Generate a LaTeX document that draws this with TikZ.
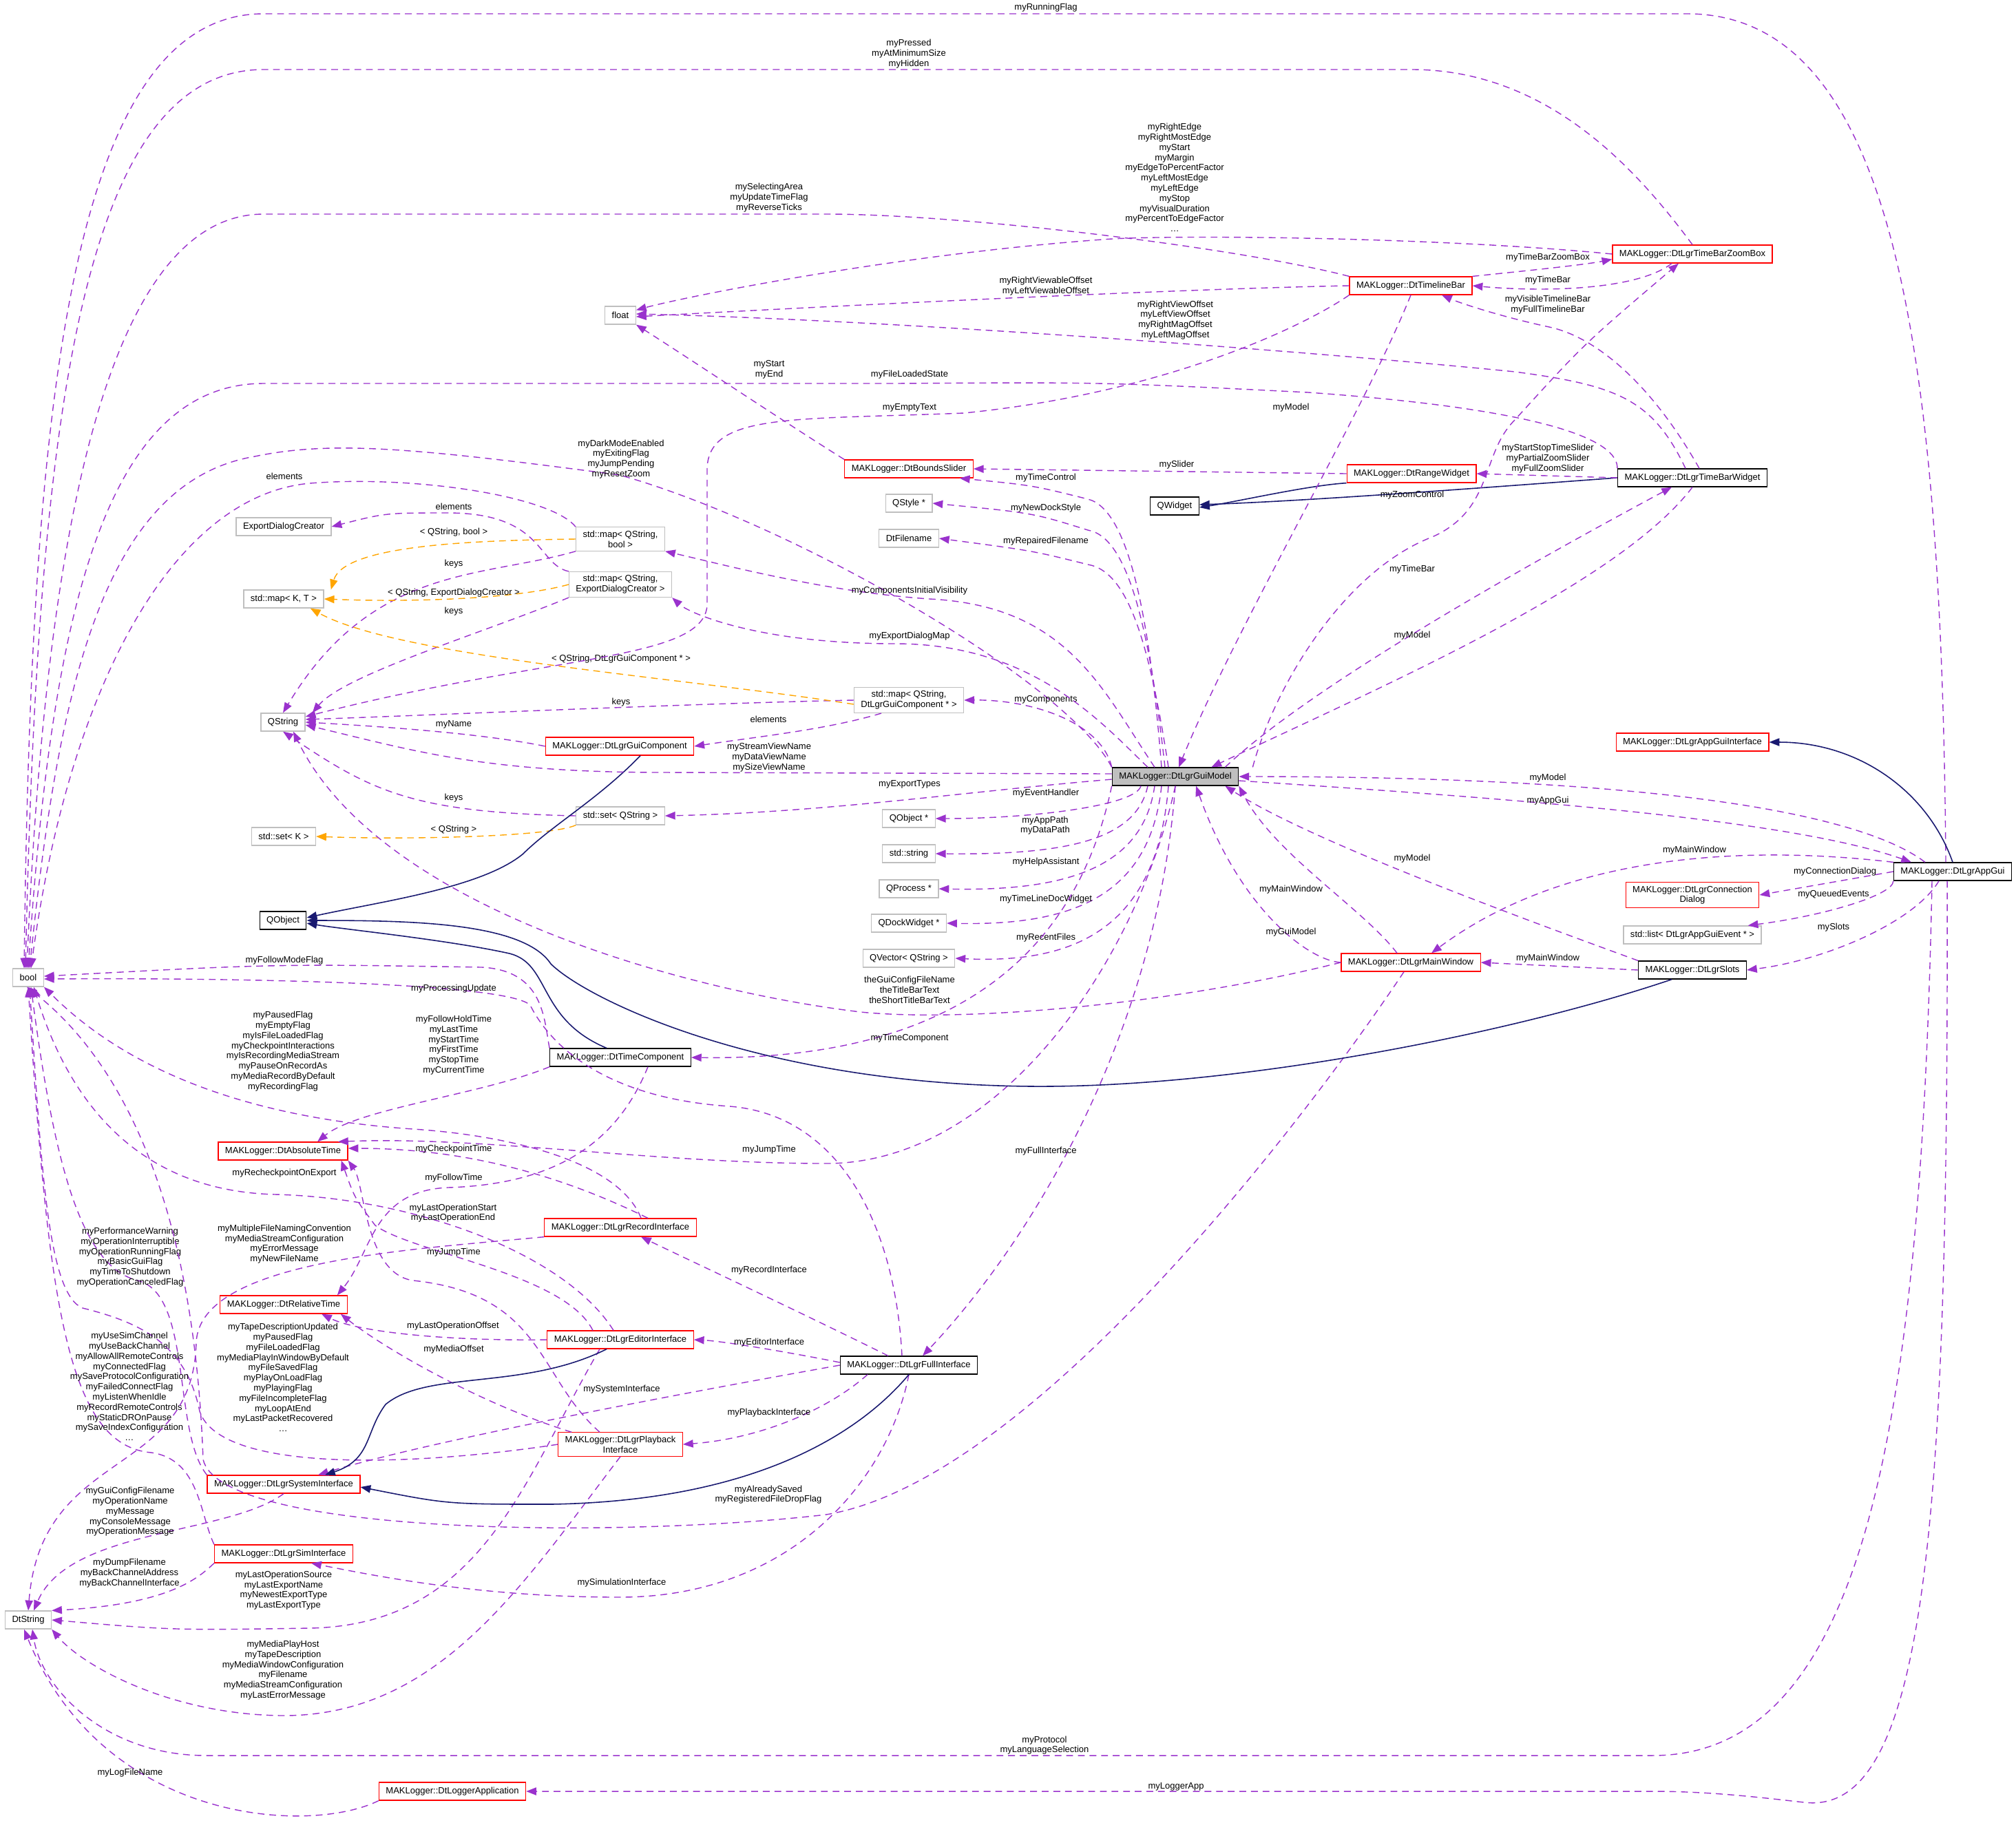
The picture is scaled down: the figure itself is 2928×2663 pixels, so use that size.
\documentclass[tikz,border=0pt]{standalone}
\usepackage{fontspec}
\setmainfont{Liberation Sans}
\usepackage{tikz}
\usetikzlibrary{arrows.meta}
\definecolor{mem}{HTML}{9A32CD}
\definecolor{tpl}{HTML}{FFA500}
\definecolor{inh}{HTML}{191970}
\definecolor{ext}{HTML}{BFBFBF}
\tikzset{
  box/.style={draw, line width=0.35pt, minimum height=0.26cm, inner xsep=0.1cm, inner ysep=0.05cm,
    align=center, font=\fontsize{3.7}{4.2}\selectfont},
  cls/.style={box, draw=black},
  bad/.style={box, draw=red},
  ext/.style={box, draw=ext},
  lbl/.style={font=\fontsize{3.7}{4.2}\selectfont, align=center, inner sep=0pt},
  use/.style={draw=mem, line width=0.4pt, dash pattern=on 2.8pt off 2pt, -{Triangle[length=4.2pt,width=3.2pt]}, fill=none},
  tmpl/.style={use, draw=tpl, -{Triangle[length=4.2pt,width=3.2pt,fill=tpl]}},
  isa/.style={draw=inh, line width=0.45pt, -{Triangle[length=4.2pt,width=3.2pt,fill=inh]}}
}
\begin{document}
\begin{tikzpicture}[x=0.01cm, y=-0.01cm]
    \useasboundingbox (0,0) rectangle (2928,2663);
    % types on the left
    \node[ext] at (41, 1420) (bool) {bool};
    \node[ext] at (41, 2353) (dtstr) {DtString};
    \node[ext] at (901, 458) (float) {float};
    \node[ext] at (412, 765) (edc) {ExportDialogCreator};
    \node[ext] at (412, 870) (mapkt) {std::map\textless{} K, T \textgreater};
    \node[ext] at (411, 1049) (qstr) {QString};
    \node[ext] at (412, 1215) (setk) {std::set\textless{} K \textgreater};
    \node[cls] at (411, 1337) (qobj) {QObject};
    \node[ext] at (901, 783) (mapqsb) {std::map\textless{} QString,\\ bool \textgreater};
    \node[ext] at (901, 849) (mapqsedc) {std::map\textless{} QString,\\ ExportDialogCreator \textgreater};
    \node[ext] at (1320, 1017) (mapqsgc) {std::map\textless{} QString,\\ DtLgrGuiComponent * \textgreater};
    \node[bad] at (900, 1084) (guicomp) {MAKLogger::DtLgrGuiComponent};
    \node[ext] at (901, 1185) (setqs) {std::set\textless{} QString \textgreater};
    \node[cls] at (901, 1536) (timecomp) {MAKLogger::DtTimeComponent};
    \node[bad] at (411, 1672) (abstime) {MAKLogger::DtAbsoluteTime};
    \node[bad] at (901, 1783) (recint) {MAKLogger::DtLgrRecordInterface};
    \node[bad] at (412, 1895) (reltime) {MAKLogger::DtRelativeTime};
    \node[bad] at (901, 1946) (editint) {MAKLogger::DtLgrEditorInterface};
    \node[bad] at (901, 2098) (playint) {MAKLogger::DtLgrPlayback\\Interface};
    \node[bad] at (412, 2156) (sysint) {MAKLogger::DtLgrSystemInterface};
    \node[bad] at (412, 2257) (simint) {MAKLogger::DtLgrSimInterface};
    \node[bad] at (657, 2602) (logapp) {MAKLogger::DtLoggerApplication};
    \node[cls] at (1320, 1983) (fullint) {MAKLogger::DtLgrFullInterface};
    % middle column
    \node[bad] at (1320, 681) (bounds) {MAKLogger::DtBoundsSlider};
    \node[ext] at (1320, 731) (qstyle) {QStyle *};
    \node[ext] at (1320, 782) (dtfile) {DtFilename};
    \node[ext] at (1320, 1189) (qobjp) {QObject *};
    \node[ext] at (1320, 1240) (stdstr) {std::string};
    \node[ext] at (1320, 1291) (qproc) {QProcess *};
    \node[ext] at (1320, 1341) (qdock) {QDockWidget *};
    \node[ext] at (1320, 1392) (qvec) {QVector\textless{} QString \textgreater};
    \node[cls, fill=ext] at (1707, 1128) (model) {MAKLogger::DtLgrGuiModel};
    % right side
    \node[bad] at (2049, 415) (timeline) {MAKLogger::DtTimelineBar};
    \node[bad] at (2458, 369) (zoombox) {MAKLogger::DtLgrTimeBarZoomBox};
    \node[bad] at (2050, 688) (range) {MAKLogger::DtRangeWidget};
    \node[cls] at (1706, 735) (qwidget) {QWidget};
    \node[cls] at (2458, 694) (tbw) {MAKLogger::DtLgrTimeBarWidget};
    \node[bad] at (2458, 1078) (appguiint) {MAKLogger::DtLgrAppGuiInterface};
    \node[bad] at (2458, 1300) (conndlg) {MAKLogger::DtLgrConnection\\Dialog};
    \node[ext] at (2458, 1358) (stdlist) {std::list\textless{} DtLgrAppGuiEvent * \textgreater};
    \node[bad] at (2049, 1398) (mainwin) {MAKLogger::DtLgrMainWindow};
    \node[cls] at (2458, 1409) (slots) {MAKLogger::DtLgrSlots};
    \node[cls] at (2836, 1266) (appgui) {MAKLogger::DtLgrAppGui};

    % members of type bool, coming from the top
    \draw[use] ([xshift=-0.1cm]appgui.north) .. controls (2820,500) and (2750,20) .. (2450,20) -- (383,20)
        .. controls (100,20) and (45,600) .. ([xshift=-0.06cm]bool.north) node[lbl] at (1519,11) {myRunningFlag};
    \draw[use] (zoombox.north) .. controls (2380,250) and (2250,101) .. (2050,101) -- (383,101)
        .. controls (120,101) and (55,600) .. ([xshift=-0.04cm]bool.north) node[lbl] at (1320,78) {myPressed\\myAtMinimumSize\\myHidden};
    \draw[use] (timeline.north west) .. controls (1800,360) and (1400,311) .. (1200,311) -- (383,311)
        .. controls (150,311) and (65,800) .. ([xshift=-0.02cm]bool.north) node[lbl] at (1117,287) {mySelectingArea\\myUpdateTimeFlag\\myReverseTicks};
    \draw[use] (tbw.north west) .. controls (2350,640) and (2250,595) .. (1900,570) .. controls (1600,555) .. (1300,557) -- (383,557)
        .. controls (150,557) and (75,900) .. (bool.north) node[lbl] at (1321,544) {myFileLoadedState};
    \draw[use] (model.north west) .. controls (1550,990) and (1150,760) .. (900,690) .. controls (600,650) and (480,640) .. (370,663)
        .. controls (150,700) and (85,1000) .. ([xshift=0.02cm]bool.north) node[lbl] at (902,667) {myDarkModeEnabled\\myExitingFlag\\myJumpPending\\myResetZoom};
    \draw[use] (mapqsb.north west) .. controls (800,720) and (600,690) .. (450,702) .. controls (250,720) and (100,1000) .. ([xshift=0.04cm]bool.north)
        node[lbl] at (413,692) {elements};
    \draw[use] (timecomp.north west) .. controls (790,1480) and (790,1410) .. (700,1405) .. controls (400,1400) .. ([yshift=0.02cm]bool.east)
        node[lbl] at (413,1395) {myFollowModeFlag};
    \draw[use] ([xshift=-0.1cm]fullint.north) .. controls (1300,1780) and (1220,1620) .. (1060,1607) .. controls (880,1595) and (800,1520) .. (770,1460)
        .. controls (740,1430) and (400,1420) .. ([yshift=-0.02cm]bool.east) node[lbl] at (659,1436) {myProcessingUpdate};
    % members of type bool, coming from below
    \draw[use] ([xshift=0.3cm]recint.north) .. controls (900,1690) and (750,1650) .. (600,1640) .. controls (300,1620) and (150,1520) .. (bool.south east)
        node[lbl] at (411,1527) {myPausedFlag\\myEmptyFlag\\myIsFileLoadedFlag\\myCheckpointInteractions\\myIsRecordingMediaStream\\myPauseOnRecordAs\\myMediaRecordByDefault\\myRecordingFlag};
    \draw[use] ([xshift=-0.1cm]editint.north) .. controls (820,1820) and (600,1740) .. (400,1735) .. controls (200,1730) and (100,1600) .. ([xshift=0.08cm]bool.south)
        node[lbl] at (413,1704) {myRecheckpointOnExport};
    \draw[use] (sysint.north west) .. controls (250,2080) and (280,1880) .. (200,1860) .. controls (120,1840) and (80,1700) .. ([xshift=0.04cm]bool.south)
        node[lbl] at (189,1826) {myPerformanceWarning\\myOperationInterruptible\\myOperationRunningFlag\\myBasicGuiFlag\\myTimeToShutdown\\myOperationCanceledFlag};
    \draw[use] (playint.west) .. controls (600,2130) and (320,2140) .. (290,2050) .. controls (270,1950) and (200,1920) .. (120,1900)
        .. controls (70,1880) and (60,1700) .. ([xshift=0.02cm]bool.south) node[lbl] at (411,2001) {myTapeDescriptionUpdated\\myPausedFlag\\myFileLoadedFlag\\myMediaPlayInWindowByDefault\\myFileSavedFlag\\myPlayOnLoadFlag\\myPlayingFlag\\myFileIncompleteFlag\\myLoopAtEnd\\myLastPacketRecovered\\\dots};
    \draw[use] (simint.north west) .. controls (290,2200) and (290,2120) .. (220,2110) .. controls (100,2100) and (70,1900) .. (bool.south)
        node[lbl] at (188,2014) {myUseSimChannel\\myUseBackChannel\\myAllowAllRemoteControls\\myConnectedFlag\\mySaveProtocolConfiguration\\myFailedConnectFlag\\myListenWhenIdle\\myRecordRemoteControls\\myStaticDROnPause\\mySaveIndexConfiguration\\\dots};
    \draw[use] ([xshift=-0.1cm]mainwin.south) .. controls (1900,1620) and (1500,2150) .. (1200,2200) .. controls (900,2235) and (320,2230) .. (295,2120)
        .. controls (280,1700) and (150,1520) .. ([xshift=-0.02cm]bool.south) node[lbl] at (1116,2171) {myAlreadySaved\\myRegisteredFileDropFlag};

    % members of type DtString
    \draw[use] (recint.south west) .. controls (600,1815) and (290,1830) .. (285,1950) .. controls (280,2150) and (60,2100) .. (dtstr.north)
        node[lbl] at (413,1807) {myMultipleFileNamingConvention\\myMediaStreamConfiguration\\myErrorMessage\\myNewFileName};
    \draw[use] (sysint.south) .. controls (330,2230) and (100,2220) .. ([xshift=0.08cm]dtstr.north)
        node[lbl] at (189,2196) {myGuiConfigFilename\\myOperationName\\myMessage\\myConsoleMessage\\myOperationMessage};
    \draw[use] (simint.south west) .. controls (290,2290) and (250,2330) .. (dtstr.north east)
        node[lbl] at (188,2285) {myDumpFilename\\myBackChannelAddress\\myBackChannelInterface};
    \draw[use] ([xshift=-0.3cm]editint.south) .. controls (760,2150) and (700,2360) .. (450,2365) .. controls (250,2368) .. (dtstr.east)
        node[lbl] at (412,2310) {myLastOperationSource\\myLastExportName\\myNewestExportType\\myLastExportType};
    \draw[use] (playint.south) .. controls (760,2300) and (640,2490) .. (415,2492) .. controls (250,2492) and (120,2420) .. (dtstr.south east)
        node[lbl] at (411,2426) {myMediaPlayHost\\myTapeDescription\\myMediaWindowConfiguration\\myFilename\\myMediaStreamConfiguration\\myLastErrorMessage};
    \draw[use] ([xshift=-0.3cm]appgui.south) .. controls (2790,2100) and (2700,2550) .. (2400,2550) -- (300,2550)
        .. controls (150,2550) and (60,2450) .. ([xshift=0.06cm]dtstr.south) node[lbl] at (1517,2535) {myProtocol\\myLanguageSelection};
    \draw[use] (logapp.south west) .. controls (450,2665) and (150,2650) .. ([xshift=-0.06cm]dtstr.south)
        node[lbl] at (189,2575) {myLogFileName};
    \draw[use] ([xshift=-0.08cm]appgui.south) .. controls (2830,2200) and (2800,2640) .. (2620,2618) .. controls (2550,2610) and (2480,2602) .. (2400,2602)
        -- (logapp.east) node[lbl] at (1708,2595) {myLoggerApp};

    % time values
    \draw[use] (timecomp.south west) .. controls (700,1590) and (520,1610) .. ([xshift=0.5cm]abstime.north)
        node[lbl] at (659,1518) {myFollowHoldTime\\myLastTime\\myStartTime\\myFirstTime\\myStopTime\\myCurrentTime};
    \draw[use] ([xshift=0.4cm]recint.north) .. controls (840,1720) and (700,1668) .. ([yshift=0.04cm]abstime.east)
        node[lbl] at (659,1669) {myCheckpointTime};
    \draw[use] ([xshift=-0.4cm]editint.north) .. controls (820,1850) and (600,1820) .. (545,1780) .. controls (515,1740) .. ([xshift=-0.1cm]abstime.south east)
        node[lbl] at (658,1762) {myLastOperationStart\\myLastOperationEnd};
    \draw[use] ([xshift=-0.3cm]playint.north) .. controls (780,2000) and (790,1880) .. (600,1860) .. controls (530,1850) and (530,1720) .. (abstime.south east)
        node[lbl] at (659,1819) {myJumpTime};
    \draw[use] (model.south) .. controls (1650,1400) and (1450,1690) .. (1200,1690) .. controls (950,1690) and (700,1650) .. ([xshift=0.8cm]abstime.north)
        node[lbl] at (1117,1670) {myJumpTime};
    \draw[use] ([xshift=0.4cm]timecomp.south) .. controls (900,1650) and (820,1720) .. (650,1725) .. controls (540,1730) and (540,1820) .. ([xshift=-0.15cm]reltime.north east)
        node[lbl] at (659,1711) {myFollowTime};
    \draw[use] (editint.west) .. controls (650,1948) and (520,1935) .. ([xshift=0.55cm]reltime.south)
        node[lbl] at (658,1926) {myLastOperationOffset};
    \draw[use] ([xshift=0.2cm]playint.north west) .. controls (700,2040) and (560,1960) .. ([xshift=-0.1cm]reltime.south east)
        node[lbl] at (659,1960) {myMediaOffset};

    % interfaces of the full interface
    \draw[use] (fullint.west) .. controls (900,2040) and (600,2100) .. ([xshift=0.5cm]sysint.north)
        node[lbl] at (903,2018) {mySystemInterface};
    \draw[use] (fullint.south) .. controls (1290,2150) and (1150,2320) .. (900,2320) .. controls (700,2320) and (550,2290) .. ([xshift=0.4cm]simint.south)
        node[lbl] at (903,2299) {mySimulationInterface};
    \draw[use] ([xshift=-0.6cm]fullint.south) .. controls (1200,2050) and (1100,2090) .. (playint.east)
        node[lbl] at (1117,2052) {myPlaybackInterface};
    \draw[use] ([yshift=0.04cm]fullint.west) .. controls (1150,1965) and (1050,1948) .. (editint.east)
        node[lbl] at (1117,1950) {myEditorInterface};
    \draw[use] ([xshift=-0.3cm]fullint.north) .. controls (1150,1900) and (1000,1830) .. ([xshift=0.3cm]recint.south)
        node[lbl] at (1117,1845) {myRecordInterface};
    \draw[use] (model.south) .. controls (1680,1500) and (1500,1800) .. ([xshift=0.2cm]fullint.north)
        node[lbl] at (1519,1672) {myFullInterface};
    \draw[isa] ([xshift=-0.2cm]editint.south) .. controls (760,2020) and (620,1990) .. (560,2040) .. controls (530,2080) and (540,2120) .. ([xshift=0.6cm]sysint.north);
    \draw[isa] (fullint.south) .. controls (1250,2080) and (1100,2180) .. (800,2185) .. controls (650,2185) .. ([yshift=-0.04cm]sysint.east);

    % containers and keys
    \draw[use] (mapqsb.south west) .. controls (700,840) and (540,820) .. (qstr.north)
        node[lbl] at (659,819) {keys};
    \draw[use] (mapqsedc.south west) .. controls (700,920) and (500,980) .. ([xshift=0.1cm]qstr.north east)
        node[lbl] at (659,888) {keys};
    \draw[use] (mapqsgc.west) .. controls (1000,1022) and (600,1040) .. ([yshift=0.04cm]qstr.east)
        node[lbl] at (902,1020) {keys};
    \draw[use] ([xshift=-0.4cm]mapqsgc.south) .. controls (1200,1060) and (1100,1070) .. (guicomp.east)
        node[lbl] at (1116,1045) {elements};
    \draw[use] (guicomp.west) .. controls (700,1065) and (550,1055) .. (qstr.east)
        node[lbl] at (659,1052) {myName};
    \draw[use] (setqs.west) .. controls (600,1180) and (540,1150) .. (qstr.south)
        node[lbl] at (659,1159) {keys};
    \draw[use] (mapqsedc.north west) .. controls (780,820) and (790,745) .. (650,745) .. controls (560,745) .. (edc.east)
        node[lbl] at (659,736) {elements};
    \draw[tmpl] (mapqsb.west) .. controls (700,785) and (500,790) .. ([xshift=0.1cm]mapkt.north east)
        node[lbl] at (659,773) {\textless{} QString, bool \textgreater};
    \draw[tmpl] (mapqsedc.west) .. controls (750,870) and (600,875) .. (mapkt.east)
        node[lbl] at (659,861) {\textless{} QString, ExportDialogCreator \textgreater};
    \draw[tmpl] ([yshift=-0.06cm]mapqsgc.west) .. controls (1000,985) and (580,955) .. ([xshift=-0.2cm]mapkt.south east)
        node[lbl] at (902,957) {\textless{} QString, DtLgrGuiComponent * \textgreater};
    \draw[tmpl] (setqs.south west) .. controls (800,1215) and (600,1220) .. (setk.east)
        node[lbl] at (659,1205) {\textless{} QString \textgreater};

    % base classes
    \draw[isa] ([xshift=0.3cm]guicomp.south) .. controls (870,1160) and (800,1200) .. (760,1240) .. controls (700,1290) and (550,1310) .. ([yshift=0.04cm]qobj.east);
    \draw[isa] ([xshift=-0.2cm]timecomp.north) .. controls (780,1480) and (800,1400) .. (740,1385) .. controls (650,1365) and (500,1350) .. ([yshift=-0.04cm]qobj.east);
    \draw[isa] ([xshift=-0.3cm]slots.south) .. controls (2200,1500) and (1800,1580) .. (1500,1578) .. controls (1100,1575) and (850,1450) .. (800,1400)
        .. controls (760,1340) and (600,1337) .. (qobj.east);
    \draw[isa] (range.south west) .. controls (1900,705) and (1800,728) .. ([yshift=-0.02cm]qwidget.east);
    \draw[isa] (tbw.west) .. controls (2200,705) and (1900,728) .. ([yshift=0.02cm]qwidget.east);
    \draw[isa] (appgui.north) .. controls (2800,1150) and (2700,1078) .. (appguiint.east);

    % the model and its members
    \draw[use] (model.north west) .. controls (1600,1050) and (1500,1016) .. (mapqsgc.east)
        node[lbl] at (1519,1016) {myComponents};
    \draw[use] ([yshift=0.04cm]model.west) -- (964,1122) .. controls (700,1122) and (600,1090) .. ([yshift=-0.04cm]qstr.east)
        node[lbl] at (1117,1100) {myStreamViewName\\myDataViewName\\mySizeViewName};
    \draw[use] ([yshift=-0.04cm]model.west) .. controls (1400,1150) and (1200,1180) .. (setqs.east)
        node[lbl] at (1321,1139) {myExportTypes};
    \draw[use] ([xshift=-0.5cm]model.south) .. controls (1650,1170) and (1500,1189) .. (qobjp.east)
        node[lbl] at (1519,1152) {myEventHandler};
    \draw[use] ([xshift=-0.4cm]model.south) .. controls (1650,1220) and (1550,1242) .. (stdstr.east)
        node[lbl] at (1518,1199) {myAppPath\\myDataPath};
    \draw[use] ([xshift=-0.3cm]model.south) .. controls (1660,1260) and (1550,1295) .. (qproc.east)
        node[lbl] at (1519,1252) {myHelpAssistant};
    \draw[use] ([xshift=-0.2cm]model.south) .. controls (1670,1300) and (1560,1345) .. (qdock.east)
        node[lbl] at (1519,1306) {myTimeLineDocWidget};
    \draw[use] ([xshift=-0.1cm]model.south) .. controls (1680,1350) and (1560,1400) .. (qvec.east)
        node[lbl] at (1519,1362) {myRecentFiles};
    \draw[use] (model.south west) .. controls (1550,1450) and (1300,1540) .. (timecomp.east)
        node[lbl] at (1321,1508) {myTimeComponent};
    \draw[use] (mainwin.west) .. controls (1700,1460) and (1400,1485) .. (1250,1470) .. controls (1000,1440) and (550,1320) .. ([xshift=0.15cm]qstr.south)
        node[lbl] at (1321,1438) {theGuiConfigFileName\\theTitleBarText\\theShortTitleBarText};
    \draw[use] ([xshift=-0.2cm]model.north) .. controls (1670,900) and (1640,740) .. (1580,725) .. controls (1500,705) .. ([xshift=-0.2cm]bounds.south east)
        node[lbl] at (1519,694) {myTimeControl};
    \draw[use] ([xshift=-0.15cm]model.north) .. controls (1670,920) and (1640,780) .. (1580,770) .. controls (1500,745) .. (qstyle.east)
        node[lbl] at (1519,738) {myNewDockStyle};
    \draw[use] ([xshift=-0.1cm]model.north) .. controls (1670,940) and (1640,830) .. (1580,820) .. controls (1500,800) .. (dtfile.east)
        node[lbl] at (1519,786) {myRepairedFilename};
    \draw[use] ([xshift=-0.3cm]model.north) .. controls (1600,1000) and (1550,880) .. (1350,870) .. controls (1200,860) and (1050,820) .. (mapqsb.south east)
        node[lbl] at (1321,858) {myComponentsInitialVisibility};
    \draw[use] ([xshift=-0.4cm]model.north) .. controls (1600,1050) and (1500,935) .. (1300,935) .. controls (1100,935) and (1000,890) .. (mapqsedc.south east)
        node[lbl] at (1321,924) {myExportDialogMap};

    % time bar widgets
    \draw[use] (timeline.south) .. controls (1980,600) and (1800,900) .. ([xshift=0.05cm]model.north)
        node[lbl] at (1875,592) {myModel};
    \draw[use] (timeline.west) .. controls (1700,420) and (1200,445) .. ([yshift=-0.02cm]float.east)
        node[lbl] at (1519,416) {myRightViewableOffset\\myLeftViewableOffset};
    \draw[use] (zoombox.west) .. controls (2100,345) and (1700,340) .. (1600,348) .. controls (1300,370) and (1000,430) .. ([yshift=-0.06cm]float.north east)
        node[lbl] at (1706,258) {myRightEdge\\myRightMostEdge\\myStart\\myMargin\\myEdgeToPercentFactor\\myLeftMostEdge\\myLeftEdge\\myStop\\myVisualDuration\\myPercentToEdgeFactor\\\dots};
    \draw[use] ([xshift=-0.1cm]tbw.north) .. controls (2400,580) and (2350,560) .. (2200,540) .. controls (1900,510) and (1300,465) .. ([yshift=0.02cm]float.east)
        node[lbl] at (1707,465) {myRightViewOffset\\myLeftViewOffset\\myRightMagOffset\\myLeftMagOffset};
    \draw[use] (bounds.north west) .. controls (1150,620) and (1000,520) .. (float.south east)
        node[lbl] at (1117,537) {myStart\\myEnd};
    \draw[use] (timeline.south west) .. controls (1900,470) and (1700,570) .. (1400,600) .. controls (1150,610) and (1030,600) .. (1027,680) -- (1027,880)
        .. controls (1020,960) and (800,950) .. ([yshift=0.08cm]qstr.east) node[lbl] at (1321,592) {myEmptyText};
    \draw[use] (timeline.north east) .. controls (2200,395) and (2300,385) .. ([yshift=0.06cm]zoombox.south west)
        node[lbl] at (2248,374) {myTimeBarZoomBox};
    \draw[use] ([xshift=-0.3cm]zoombox.south) .. controls (2380,420) and (2250,425) .. (timeline.east)
        node[lbl] at (2248,407) {myTimeBar};
    \draw[use] ([xshift=0.1cm]tbw.north) .. controls (2400,560) and (2320,490) .. (2250,475) .. controls (2180,460) and (2120,440) .. ([xshift=0.45cm]timeline.south)
        node[lbl] at (2248,443) {myVisibleTimelineBar\\myFullTimelineBar};
    \draw[use] (range.west) -- (bounds.east) node[lbl] at (1709,675) {mySlider};
    \draw[use] (tbw.west) -- (range.east) node[lbl] at (2248,666) {myStartStopTimeSlider\\myPartialZoomSlider\\myFullZoomSlider};
    \draw[use] ([xshift=0.2cm]model.north east) .. controls (1850,1000) and (1950,830) .. (2080,780) .. controls (2170,740) and (2150,660) .. (2200,610)
        .. controls (2300,500) .. ([xshift=-0.2cm]zoombox.south) node[lbl] at (2051,719) {myZoomControl};
    \draw[use] ([xshift=-0.2cm]model.north east) .. controls (1900,1000) and (2200,830) .. ([xshift=-0.3cm]tbw.south)
        node[lbl] at (2051,827) {myTimeBar};
    \draw[use] (tbw.south) .. controls (2350,850) and (2000,1000) .. ([xshift=-0.4cm]model.north east)
        node[lbl] at (2051,923) {myModel};

    % application and main window
    \draw[use] ([xshift=-0.2cm]mainwin.north) .. controls (1980,1320) and (1850,1240) .. (model.south east)
        node[lbl] at (1875,1292) {myMainWindow};
    \draw[use] (mainwin.west) .. controls (1900,1395) and (1800,1320) .. ([xshift=0.3cm]model.south)
        node[lbl] at (1875,1354) {myGuiModel};
    \draw[use] (slots.north west) .. controls (2200,1330) and (1900,1220) .. ([xshift=-0.2cm]model.south east)
        node[lbl] at (2051,1247) {myModel};
    \draw[use] ([xshift=-0.4cm]appgui.north) .. controls (2700,1180) and (2400,1128) .. (model.east)
        node[lbl] at (2248,1130) {myModel};
    \draw[use] ([yshift=-0.06cm]model.east) .. controls (2200,1160) and (2600,1190) .. ([xshift=-0.6cm]appgui.north)
        node[lbl] at (2248,1163) {myAppGui};
    \draw[use] (appgui.north west) .. controls (2600,1235) and (2300,1220) .. ([xshift=0.3cm]mainwin.north)
        node[lbl] at (2461,1235) {myMainWindow};
    \draw[use] (appgui.west) -- (conndlg.east) node[lbl] at (2665,1266) {myConnectionDialog};
    \draw[use] (appgui.south west) .. controls (2750,1300) and (2650,1330) .. ([xshift=-0.2cm]stdlist.north east)
        node[lbl] at (2663,1299) {myQueuedEvents};
    \draw[use] ([xshift=-0.2cm]appgui.south) .. controls (2780,1340) and (2650,1395) .. (slots.east)
        node[lbl] at (2663,1347) {mySlots};
    \draw[use] (slots.west) -- (mainwin.east) node[lbl] at (2248,1392) {myMainWindow};
\end{tikzpicture}
\end{document}
